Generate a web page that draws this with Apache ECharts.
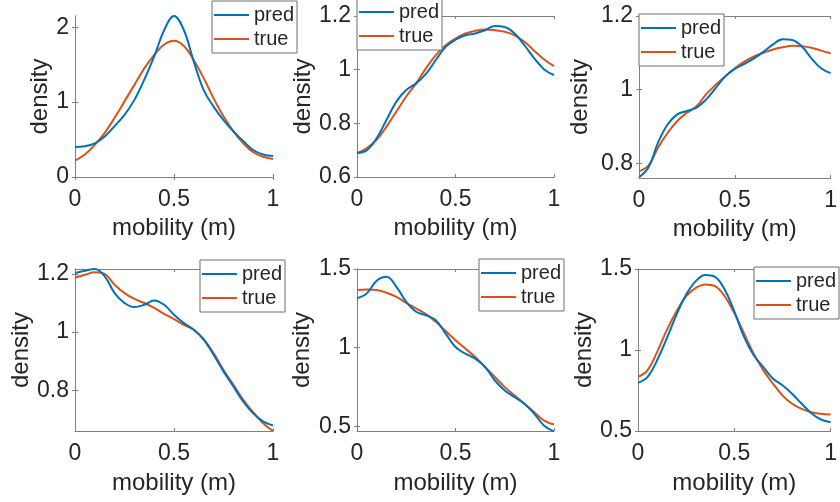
<!DOCTYPE html>
<html>
<head>
<meta charset="utf-8">
<script src="https://cdn.jsdelivr.net/npm/echarts@6/dist/echarts.min.js"></script>
<style>
  html, body { margin: 0; padding: 0; background: #fff; }
  #chart { width: 840px; height: 502px; }
</style>
</head>
<body>
<div id="chart"></div>
<script>
// x positions (mobility m)
var xs = [0, 0.05, 0.1, 0.15, 0.2, 0.25, 0.3, 0.35, 0.4, 0.45, 0.5,
          0.55, 0.6, 0.65, 0.7, 0.75, 0.8, 0.85, 0.9, 0.95, 1];

// panel 1 (top left)
var p1Pred = [0.40, 0.41, 0.45, 0.54, 0.68, 0.83, 1.03, 1.30, 1.61, 1.96, 2.15,
              1.96, 1.54, 1.16, 0.94, 0.76, 0.61, 0.48, 0.36, 0.30, 0.28];
var p1True = [0.22, 0.30, 0.43, 0.59, 0.79, 1.01, 1.23, 1.45, 1.63, 1.77, 1.82,
              1.75, 1.56, 1.32, 1.05, 0.81, 0.61, 0.45, 0.33, 0.27, 0.24];
// panel 2 (top middle)
var p2Pred = [0.689, 0.70, 0.745, 0.813, 0.881, 0.924, 0.949, 0.984, 1.036, 1.085, 1.112,
              1.128, 1.135, 1.147, 1.163, 1.159, 1.135, 1.091, 1.042, 1.001, 0.98];
var p2True = [0.689, 0.708, 0.739, 0.788, 0.844, 0.90, 0.949, 1.005, 1.054, 1.091, 1.116,
              1.135, 1.145, 1.15, 1.147, 1.141, 1.128, 1.104, 1.07, 1.038, 1.013];
// panel 3 (top right)
var p3Pred = [0.762, 0.789, 0.857, 0.906, 0.933, 0.942, 0.951, 0.973, 1.004, 1.036, 1.056,
              1.07, 1.085, 1.103, 1.123, 1.137, 1.135, 1.117, 1.085, 1.058, 1.045];
var p3True = [0.778, 0.794, 0.843, 0.883, 0.915, 0.937, 0.955, 0.987, 1.013, 1.036, 1.058,
              1.076, 1.09, 1.10, 1.109, 1.115, 1.119, 1.118, 1.114, 1.106, 1.099];
// panel 4 (bottom left)
var p4Pred = [1.203, 1.211, 1.217, 1.192, 1.134, 1.10, 1.086, 1.094, 1.109, 1.094, 1.06,
              1.031, 1.008, 0.974, 0.922, 0.865, 0.813, 0.761, 0.721, 0.693, 0.679];
var p4True = [1.188, 1.197, 1.206, 1.20, 1.163, 1.134, 1.114, 1.10, 1.083, 1.063, 1.045,
              1.025, 1.008, 0.976, 0.928, 0.87, 0.819, 0.767, 0.724, 0.687, 0.66];
// panel 5 (bottom middle)
var p5Pred = [1.313, 1.345, 1.426, 1.451, 1.387, 1.291, 1.228, 1.206, 1.174, 1.089, 1.004,
              0.962, 0.93, 0.877, 0.791, 0.728, 0.685, 0.643, 0.579, 0.504, 0.468];
var p5True = [1.366, 1.37, 1.366, 1.349, 1.323, 1.285, 1.249, 1.213, 1.164, 1.106, 1.047,
              0.994, 0.94, 0.877, 0.813, 0.749, 0.696, 0.643, 0.589, 0.536, 0.511];
// panel 6 (bottom right)
var p6Pred = [0.797, 0.834, 0.938, 1.073, 1.218, 1.342, 1.425, 1.463, 1.452, 1.373, 1.239,
              1.083, 0.969, 0.896, 0.824, 0.782, 0.73, 0.668, 0.61, 0.571, 0.554];
var p6True = [0.834, 0.876, 0.99, 1.124, 1.239, 1.332, 1.384, 1.405, 1.394, 1.332, 1.228,
              1.104, 0.979, 0.876, 0.793, 0.72, 0.668, 0.637, 0.616, 0.606, 0.602];

// tick labels
var xTicks = [0, 0.5, 1];
var yTicks = [[0, 1, 2], [0.6, 0.8, 1, 1.2], [0.8, 1, 1.2], [0.8, 1, 1.2], [0.5, 1, 1.5], [0.5, 1, 1.5]];
var yRange = [[0, 2.15], [0.6, 1.2], [0.76, 1.2], [0.66, 1.217], [0.47, 1.5], [0.5, 1.5]];

var predList = [p1Pred, p2Pred, p3Pred, p4Pred, p5Pred, p6Pred];
var trueList = [p1True, p2True, p3True, p4True, p5True, p6True];

// layout of each axes box (pixels)
var boxes = [
    {left: 75, top: 16, width: 198, height: 161, yGap: 23, lg: [212, 1]},
    {left: 357, top: 16, width: 197, height: 161, yGap: 42, lg: [357, -2]},
    {left: 639, top: 16, width: 198, height: 162, yGap: 47, lg: [639, 14]},
    {left: 75, top: 269, width: 198, height: 162, yGap: 41, lg: [200, 260]},
    {left: 357, top: 269, width: 197, height: 162, yGap: 43, lg: [479, 259]},
    {left: 638, top: 269, width: 198, height: 162, yGap: 41, lg: [754, 267]}
];

var FONT = "'Liberation Sans', Arial, sans-serif";
var TXT = '#262626';
var AX = '#808080';
var BLUE = '#0072BD';
var ORANGE = '#D95319';

function pairs(ys) {
    return xs.map(function (x, i) { return [x, ys[i]]; });
}

var grid = [], xAxis = [], yAxis = [], series = [], legend = [];

boxes.forEach(function (b, i) {
    grid.push({left: b.left, top: b.top, width: b.width, height: b.height, containLabel: false});
    var lineStyle = {color: AX, width: 1};
    // bottom x axis
    xAxis.push({
        gridIndex: i, type: 'value', min: 0, max: 1, position: 'bottom',
        name: 'mobility (m)', nameLocation: 'middle', nameGap: i < 3 ? 39 : 40,
        nameTextStyle: {fontFamily: FONT, fontSize: 24, color: TXT},
        axisLine: {show: true, lineStyle: lineStyle},
        axisTick: {show: true, inside: true, length: 3, lineStyle: lineStyle, customValues: xTicks},
        axisLabel: {fontFamily: FONT, fontSize: 23, color: TXT, margin: 11, customValues: xTicks},
        splitLine: {show: false}
    });
    // top x axis (box edge)
    xAxis.push({
        gridIndex: i, type: 'value', min: 0, max: 1, position: 'top',
        axisLine: {show: true, lineStyle: lineStyle},
        axisTick: {show: true, inside: true, length: 3, lineStyle: lineStyle, customValues: xTicks},
        axisLabel: {show: false},
        splitLine: {show: false}
    });
    yAxis.push({
        gridIndex: i, type: 'value', min: yRange[i][0], max: yRange[i][1], position: 'left',
        name: 'density', nameLocation: 'middle', nameGap: b.yGap, nameRotate: 90,
        nameTextStyle: {fontFamily: FONT, fontSize: 24, color: TXT},
        axisLine: {show: true, lineStyle: lineStyle},
        axisTick: {show: true, inside: true, length: 3, lineStyle: lineStyle, customValues: yTicks[i]},
        axisLabel: {fontFamily: FONT, fontSize: 23, color: TXT, margin: 6, customValues: yTicks[i]},
        splitLine: {show: false}
    });
    yAxis.push({
        gridIndex: i, type: 'value', min: yRange[i][0], max: yRange[i][1], position: 'right',
        axisLine: {show: true, lineStyle: lineStyle},
        axisTick: {show: true, inside: true, length: 3, lineStyle: lineStyle, customValues: yTicks[i]},
        axisLabel: {show: false},
        splitLine: {show: false}
    });
    series.push({
        name: 'pred', type: 'line', xAxisIndex: i * 2, yAxisIndex: i * 2,
        data: pairs(predList[i]), smooth: 0.4, symbol: 'none',
        lineStyle: {color: BLUE, width: 2}, itemStyle: {color: BLUE}, z: 3
    });
    series.push({
        name: 'true', type: 'line', xAxisIndex: i * 2, yAxisIndex: i * 2,
        data: pairs(trueList[i]), smooth: 0.4, symbol: 'none',
        lineStyle: {color: ORANGE, width: 2}, itemStyle: {color: ORANGE}, z: 2
    });
    legend.push({
        data: ['pred', 'true'], orient: 'vertical', left: b.lg[0], top: b.lg[1],
        icon: 'rect', itemWidth: 35, itemHeight: 2, itemGap: 4, itemTextGap: 2,
        backgroundColor: '#fff', borderColor: '#6e6e6e', borderWidth: 1,
        padding: [4, 3, 4, 2],
        textStyle: {fontFamily: FONT, fontSize: 20, color: TXT, lineHeight: 20},
        selectedMode: false, z: 10
    });
});

var chart = echarts.init(document.getElementById('chart'), null, {renderer: 'canvas'});
chart.setOption({
    animation: false,
    backgroundColor: '#fff',
    grid: grid,
    xAxis: xAxis,
    yAxis: yAxis,
    legend: legend,
    series: series
});
</script>
</body>
</html>
